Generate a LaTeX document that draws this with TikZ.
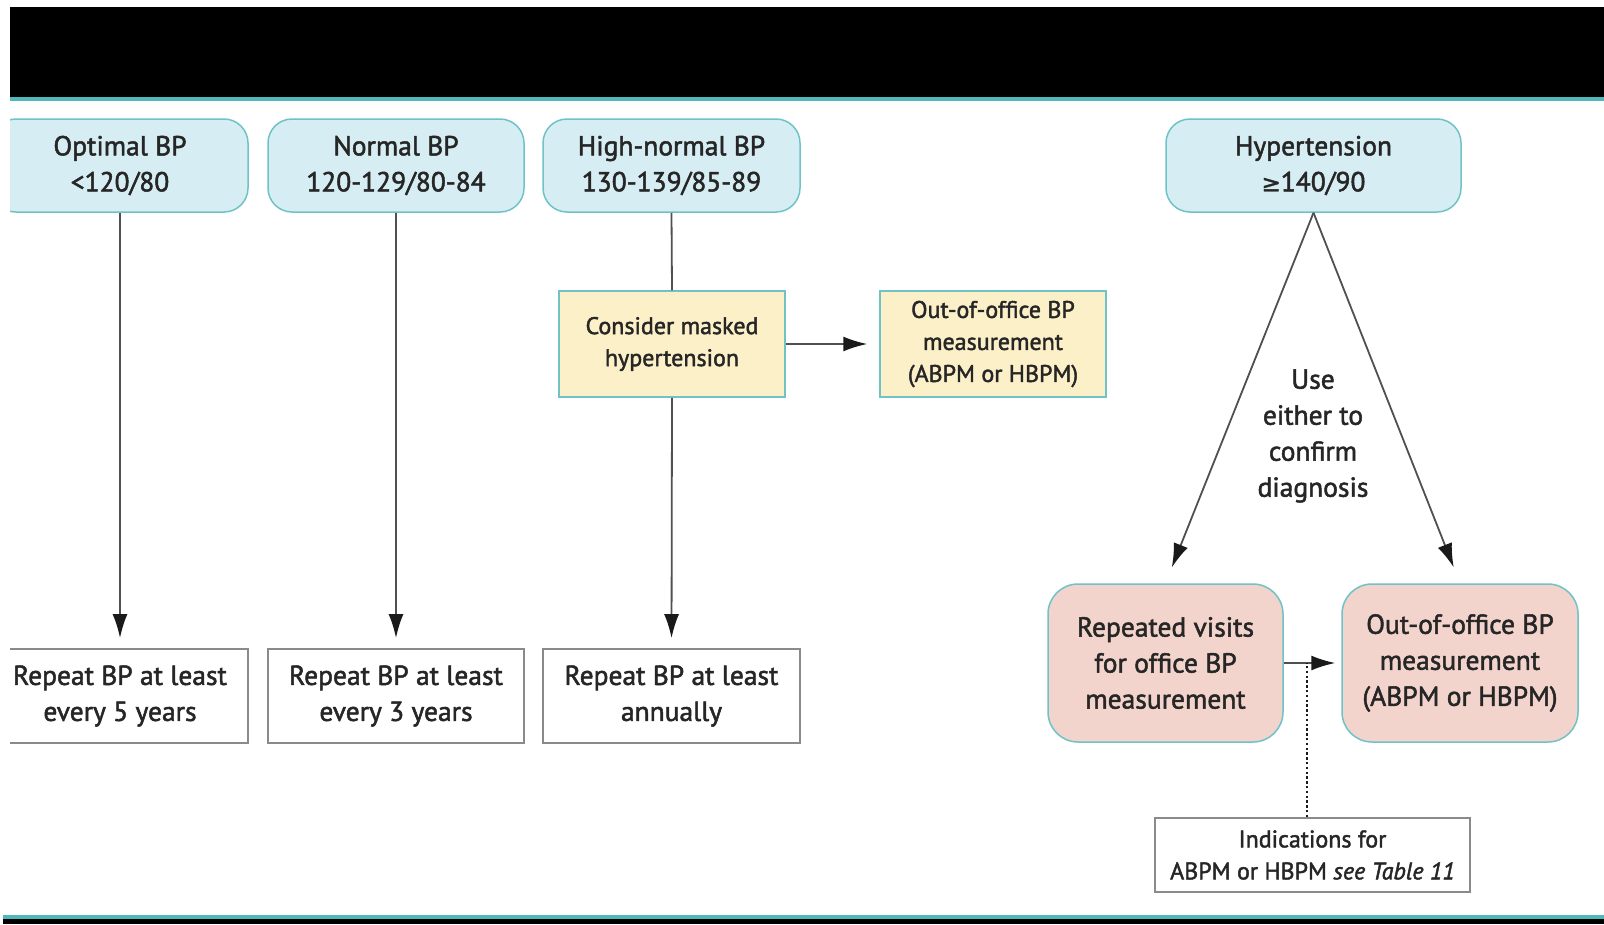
\documentclass[tikz,border=0pt]{standalone}
\usepackage{fontspec}
\setmainfont[FakeBold=1.8]{PT Sans}
\newfontfamily\symfont[FakeBold=1.5]{DejaVu Sans}
\usetikzlibrary{arrows.meta,calc}
\definecolor{bluefill}{HTML}{D6EEF3}
\definecolor{yelfill}{HTML}{FCF0C8}
\definecolor{pinkfill}{HTML}{F2D4CC}
\definecolor{tealb}{HTML}{6FC3C6}
\definecolor{bandteal}{HTML}{4FB8BA}
\definecolor{txt}{HTML}{262626}
\definecolor{lin}{HTML}{505050}
\definecolor{headc}{HTML}{1A1A1A}
\definecolor{graybd}{HTML}{8A8A8A}
\tikzset{
  bigtext/.style={font=\fontsize{27.5}{36}\selectfont, text=txt, align=center},
  smalltext/.style={font=\fontsize{24}{32}\selectfont, text=txt, align=center},
  bluebox/.style={bigtext, draw=tealb, fill=bluefill, rounded corners=24pt, line width=1.5pt, inner sep=0pt, minimum height=93pt},
  whitebox/.style={bigtext, draw=graybd, fill=white, line width=1.8pt, inner sep=0pt, minimum height=94pt},
  yelbox/.style={smalltext, draw=tealb, fill=yelfill, line width=1.5pt, inner sep=0pt, minimum width=226pt, minimum height=106pt},
  pinkbox/.style={bigtext, draw=tealb, fill=pinkfill, rounded corners=30pt, line width=1.5pt, inner sep=0pt, minimum height=158pt},
  conn/.style={draw=lin, line width=1.8pt},
  arr/.style={conn, -{Latex[length=24pt,width=15pt,color=headc]}},
  dotline/.style={draw=headc, line width=2.6pt, dash pattern=on 2.4pt off 2.4pt},
}
\begin{document}
\begin{tikzpicture}[x=1pt,y=-1pt]
\useasboundingbox (0,0) rectangle (1604,924);
\fill[white] (0,0) rectangle (1604,924);
% top band
\fill[black] (9,7) rectangle (1604,97);
\fill[bandteal] (9,97) rectangle (1604,100.5);
% bottom band
\fill[bandteal] (3,915) rectangle (1604,919);
\fill[black] (3,919) rectangle (1604,924);

% top boxes
\node[bluebox, minimum width=256pt] (opt) at (120,165.5) {Optimal BP\\<120/80};
\node[bluebox, minimum width=256pt] (norm) at (396,165.5) {Normal BP\\120-129/80-84};
\node[bluebox, minimum width=257pt] (high) at (671.5,165.5) {High-normal BP\\130-139/85-89};
\node[bluebox, minimum width=295pt] (hyp) at (1313.5,165.5) {Hypertension\\{\symfont\fontsize{23}{36}\selectfont ≥}140/90};

% bottom boxes
\node[whitebox, minimum width=256pt] (rep5) at (120,696) {Repeat BP at least\\every 5 years};
\node[whitebox, minimum width=256pt] (rep3) at (396,696) {Repeat BP at least\\every 3 years};
\node[whitebox, minimum width=257pt] (rep1) at (671.5,696) {Repeat BP at least\\annually};

% yellow
\node[yelbox] (masked) at (672,344) {Consider masked\\hypertension};
\node[yelbox] (ooo1) at (993,344) {Out-of-office BP\\measurement\\(ABPM or HBPM)};

% pink
\node[pinkbox, minimum width=235pt] (repv) at (1165.5,663) {Repeated visits\\for office BP\\measurement};
\node[pinkbox, minimum width=236pt] (ooo2) at (1460,663) {Out-of-office BP\\measurement\\(ABPM or HBPM)};

% indications
\node[smalltext, draw=graybd, fill=white, line width=1.8pt, inner sep=0pt, minimum width=315pt, minimum height=74pt] (ind) at (1312.5,855) {Indications for\\ABPM or HBPM \textit{see Table 11}};

% label
\node[bigtext] (use) at (1313,436) {Use\\either to\\confirm\\diagnosis};

% connectors
\draw[arr, shorten >=10pt] (opt.south) -- (rep5.north);
\draw[arr, shorten >=10pt] (norm.south) -- (rep3.north);
\draw[conn] (high.south) -- (masked.north);
\draw[arr, shorten >=10pt] (masked.south) -- (rep1.north);
\draw[arr, shorten >=12pt] (masked.east) -- (ooo1.west);
\draw[arr, shorten >=17pt] (hyp.south) -- (repv.north);
\draw[arr, shorten >=17pt] (hyp.south) -- (ooo2.north);
\draw[arr, shorten >=6pt] (repv.east) -- (ooo2.west);
\coordinate (dj) at (1307,663);
\draw[dotline] (ind.north -| dj) -- (dj);

% left clip
\fill[white] (0,0) rectangle (9.5,912);
\end{tikzpicture}
\end{document}
